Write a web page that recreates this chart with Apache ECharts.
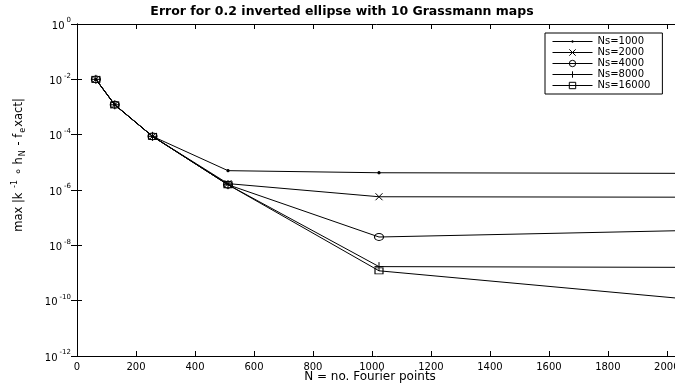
<!DOCTYPE html>
<html lang="en">
<head>
    <meta charset="UTF-8">
    <title>Error for 0.2 inverted ellipse</title>
    <script src="https://cdn.jsdelivr.net/npm/echarts@6/dist/echarts.min.js"></script>
    <style>
        html, body { margin: 0; padding: 0; background: #fff; }
        #main { width: 675px; height: 386px; }
    </style>
</head>
<body>
    <div id="main"></div>
    <script>
        // N = number of Fourier points
        var nPoints = [64, 128, 256, 512, 1024, 2048];
        var ns1000  = [1.0e-2, 1.2e-3, 8.7e-5, 5.0e-6, 4.2e-6, 4.0e-6];
        var ns2000  = [1.0e-2, 1.2e-3, 8.7e-5, 1.7e-6, 5.7e-7, 5.5e-7];
        var ns4000  = [1.0e-2, 1.2e-3, 8.7e-5, 1.55e-6, 2.0e-8, 3.4e-8];
        var ns8000  = [1.0e-2, 1.2e-3, 8.7e-5, 1.55e-6, 1.7e-9, 1.6e-9];
        var ns16000 = [1.0e-2, 1.2e-3, 8.7e-5, 1.55e-6, 1.2e-9, 1.2e-10];
        var seriesNames = ['Ns=1000', 'Ns=2000', 'Ns=4000', 'Ns=8000', 'Ns=16000'];
        var xTicks = [0, 200, 400, 600, 800, 1000, 1200, 1400, 1600, 1800, 2000];

        var font = 'DejaVu Sans';
        // small dot inside a bigger (empty) box so legend and plot keep it tiny
        var dot = 'path://M0,0M10,10M4,4L6,4L6,6L4,6Z';
        var crossX = 'path://M0,0L10,10M10,0L0,10';
        var crossPlus = 'path://M5,0L5,10M0,5L10,5';

        function pairs(vals) {
            return nPoints.map(function (n, i) { return [n, vals[i]]; });
        }

        function line(name, vals, symbol, size, filled) {
            return {
                name: name,
                type: 'line',
                data: pairs(vals),
                symbol: symbol,
                symbolSize: size,
                showAllSymbol: true,
                animation: false,
                lineStyle: { color: '#000', width: 1 },
                itemStyle: {
                    color: filled ? '#000' : 'rgba(0,0,0,0)',
                    borderColor: '#000',
                    borderWidth: 1
                },
                emphasis: { disabled: true }
            };
        }

        var myChart = echarts.init(document.getElementById('main'));

        var tickLabel = {
            color: '#000',
            fontFamily: font,
            fontSize: 10
        };

        var option = {
            backgroundColor: '#fff',
            animation: false,
            textStyle: { fontFamily: font },
            grid: { left: 77, top: 24, right: -6, bottom: 30, outerBoundsMode: 'none', containLabel: false },
            legend: {
                orient: 'vertical',
                left: 545,
                top: 33,
                padding: [3, 12, 3, 7],
                itemWidth: 40,
                itemHeight: 8,
                itemGap: 0,
                backgroundColor: '#fff',
                borderColor: '#000',
                borderWidth: 1,
                borderRadius: 0,
                lineStyle: { width: 1, color: '#000' },
                itemStyle: { borderWidth: 1, borderColor: '#000' },
                textStyle: { color: '#000', fontFamily: font, fontSize: 10, lineHeight: 11 },
                data: seriesNames
            },
            xAxis: [{
                type: 'value',
                min: 0,
                max: 2048,
                interval: 200,
                axisLine: { lineStyle: { color: '#000', width: 1 } },
                axisTick: { inside: true, length: 5, lineStyle: { color: '#000' } },
                axisLabel: Object.assign({ margin: 6, showMaxLabel: false,
                    formatter: function (v) { return xTicks.indexOf(v) >= 0 ? String(v) : ''; } }, tickLabel),
                splitLine: { show: false }
            }, {
                type: 'value',
                position: 'top',
                min: 0,
                max: 2048,
                interval: 200,
                axisLine: { lineStyle: { color: '#000', width: 1 } },
                axisTick: { inside: true, length: 5, lineStyle: { color: '#000' } },
                axisLabel: { show: false },
                splitLine: { show: false }
            }],
            yAxis: [{
                type: 'log',
                logBase: 10,
                min: 1e-12,
                max: 1,
                interval: 2,
                axisLine: { show: true, lineStyle: { color: '#000', width: 1 } },
                axisTick: { show: true, inside: true, length: 5, lineStyle: { color: '#000' } },
                minorTick: { show: false },
                splitLine: { show: false },
                axisLabel: {
                    margin: 6,
                    formatter: function (v) {
                        var e = Math.round(Math.log10(v));
                        return '{b|10}{s|' + (e === 0 ? '0' : '-' + Math.abs(e)) + '}';
                    },
                    rich: {
                        b: { color: '#000', fontFamily: font, fontSize: 10, verticalAlign: 'bottom', lineHeight: 14 },
                        s: { color: '#000', fontFamily: font, fontSize: 7, verticalAlign: 'top', padding: [0, 0, 0, 2], lineHeight: 14 }
                    }
                }
            }, {
                type: 'log',
                logBase: 10,
                min: 1e-12,
                max: 1,
                interval: 2,
                position: 'right',
                axisLine: { show: true, lineStyle: { color: '#000', width: 1 } },
                axisTick: { show: true, inside: true, length: 6, lineStyle: { color: '#000' } },
                axisLabel: { show: false },
                splitLine: { show: false }
            }],
            graphic: [{
                type: 'text',
                x: 342,
                y: 12,
                style: {
                    text: 'Error for 0.2 inverted ellipse with 10 Grassmann maps',
                    fill: '#000',
                    font: 'bold 12.5px "DejaVu Sans"',
                    align: 'center',
                    verticalAlign: 'middle'
                }
            }, {
                type: 'text',
                x: 370,
                y: 377,
                style: {
                    text: 'N = no. Fourier points',
                    fill: '#000',
                    font: '12px "DejaVu Sans"',
                    align: 'center',
                    verticalAlign: 'middle'
                }
            }, {
                type: 'text',
                x: 19,
                y: 165,
                rotation: Math.PI / 2,
                style: {
                    text: '{t|max |k }{p|-1}{t| \u2218 h}{d|N}{t| - f}{d|e}{t|xact|}',
                    align: 'center',
                    verticalAlign: 'middle',
                    rich: {
                        t: { fill: '#000', fontFamily: font, fontSize: 11.5, lineHeight: 16, verticalAlign: 'middle' },
                        p: { fill: '#000', fontFamily: font, fontSize: 8, lineHeight: 16, verticalAlign: 'top', padding: [0, 1, 0, 1] },
                        d: { fill: '#000', fontFamily: font, fontSize: 8, lineHeight: 16, verticalAlign: 'bottom', padding: [0, 1, 0, 1] }
                    }
                }
            }],
            series: [
                line('Ns=1000', ns1000, dot, 10, true),
                line('Ns=2000', ns2000, crossX, 7, false),
                line('Ns=4000', ns4000, 'circle', [9, 7], false),
                line('Ns=8000', ns8000, crossPlus, 9, false),
                line('Ns=16000', ns16000, 'rect', [8, 6], false)
            ]
        };

        myChart.setOption(option);
        window.onresize = myChart.resize;
    </script>
</body>
</html>
